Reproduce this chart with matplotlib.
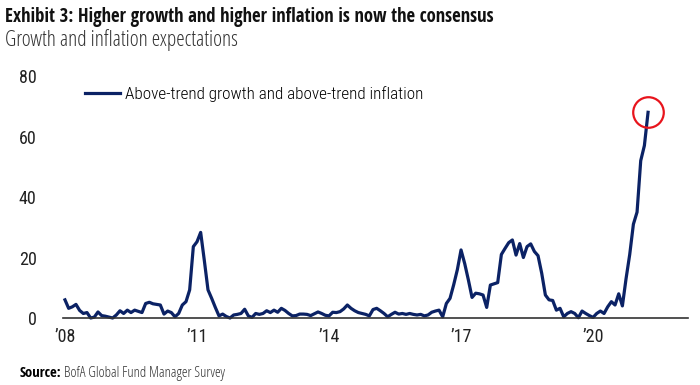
import numpy as np
import matplotlib.pyplot as plt

# Monthly readings, Jan 2008 - Apr 2021 (net % expecting above-trend growth and inflation)
start_year = 2008
values = [
    6, 3.2, 3.7, 4.5, 2.5, 1.5, 1.8, 0, 0.3, 2, 0.8, 0.6,            # 2008
    0.3, 0, 1, 2.4, 1.5, 2.6, 1.8, 2.6, 2.2, 1.8, 4.8, 5.2,          # 2009
    4.7, 4.5, 4.3, 1.3, 2.3, 1.8, 0.4, 1.5, 4.3, 5.4, 9.3, 23.6,     # 2010
    25.2, 28.3, 19, 9.3, 6.5, 3.5, 0.7, 1.3, 0.5, 0, 1, 1.2,         # 2011
    1.5, 2.9, 0.7, 0.2, 1.5, 1.2, 1.5, 2.4, 1.8, 2.6, 1.9, 3.2,      # 2012
    2.5, 1.5, 0.7, 0.8, 1.3, 1.3, 1.2, 0.8, 1.4, 2, 1.5, 0.9,        # 2013
    0.7, 1.9, 1.8, 2.1, 3, 4.3, 3.2, 2.4, 1.8, 1.5, 1.2, 0.7,        # 2014
    2.8, 3.2, 2.4, 1.5, 0.4, 1.2, 1.9, 1.3, 1.5, 1.2, 1.5, 1.2,      # 2015
    1, 1.2, 0.7, 1, 1.9, 2.3, 2.6, 0.4, 4.8, 6.5, 11, 16,            # 2016
    22.5, 18, 12.6, 6.8, 8.2, 8, 7.6, 3.5, 10.9, 11.3, 11.7, 21,     # 2017
    23, 24.9, 25.8, 20.8, 24.6, 20, 23.6, 24.5, 22, 20.6, 14.8, 7.6, # 2018
    6, 5.8, 2.6, 3.2, 0.4, 1.5, 2.1, 1.5, 0.1, 2.3, 1.5, 0.8,        # 2019
    0.2, 1.5, 2.3, 1.5, 3.7, 5.4, 4.3, 8, 4, 13, 21, 31,             # 2020
    35, 52, 57, 68,                                                  # 2021
]
series_label = 'Above-trend growth and above-trend inflation'
tick_years = [2008, 2011, 2014, 2017, 2020]
tick_labels = ['\u201908', '\u201911', '\u201914', '\u201917', '\u201920']
y_ticks = [0, 20, 40, 60, 80]

navy = '#0b2265'
plt.rcParams['font.family'] = ['Roboto Condensed', 'DejaVu Sans']

dates = start_year + np.arange(len(values)) / 12

fig = plt.figure(figsize=(7, 3.85), dpi=100)
ax = fig.add_axes([0.09, 0.174, 0.893, 0.6286])

ax.plot(dates, values, color=navy, lw=2.3, label=series_label, clip_on=False,
        solid_joinstyle='round')
# red ring around the latest reading
ax.plot(dates[-1], values[-1], marker='o', ms=22, mfc='none', mec='#e8141c',
        mew=1.6, clip_on=False)

ax.set_xlim(2007.955, 2022.16)
ax.set_ylim(0, 80)
ax.set_xticks(tick_years)
ax.set_xticklabels(tick_labels)
ax.set_yticks(y_ticks)
ax.tick_params(length=0, labelsize=13, colors='#222222')
ax.tick_params(axis='y', pad=19)
ax.tick_params(axis='x', pad=7)
for s in ['top', 'right', 'left']:
    ax.spines[s].set_visible(False)
ax.spines['bottom'].set_color('#333333')
ax.spines['bottom'].set_linewidth(1.2)

leg = ax.legend(loc='upper left', bbox_to_anchor=(0.01, 1.02), frameon=False,
                fontsize=12.3, handlelength=2.05, handletextpad=0.3)
for t in leg.get_texts():
    t.set_fontweight(300)

fig.text(0.007, 0.955, 'Exhibit 3: Higher growth and higher inflation is now the consensus',
         fontsize=13.5, fontweight='bold', va='center', color='#111111',
         family=['Open Sans Condensed', 'DejaVu Sans'])
fig.text(0.007, 0.895, 'Growth and inflation expectations', fontsize=15.5,
         va='center', color='#333333', family=['Open Sans', 'DejaVu Sans'],
         fontstretch='condensed', fontweight=300)
src = fig.text(0.028, 0.03, 'Source:', fontsize=10.5, fontweight='bold', va='center',
               family=['Open Sans Condensed', 'DejaVu Sans'])
fig.canvas.draw()
bb = src.get_window_extent().transformed(fig.transFigure.inverted())
fig.text(bb.x1 + 0.004, 0.03, 'BofA Global Fund Manager Survey', fontsize=10.5,
         va='center', color='#333333', family=['Open Sans', 'DejaVu Sans'],
         fontstretch='condensed', fontweight=300)

fig.savefig('out.png', dpi=100)
